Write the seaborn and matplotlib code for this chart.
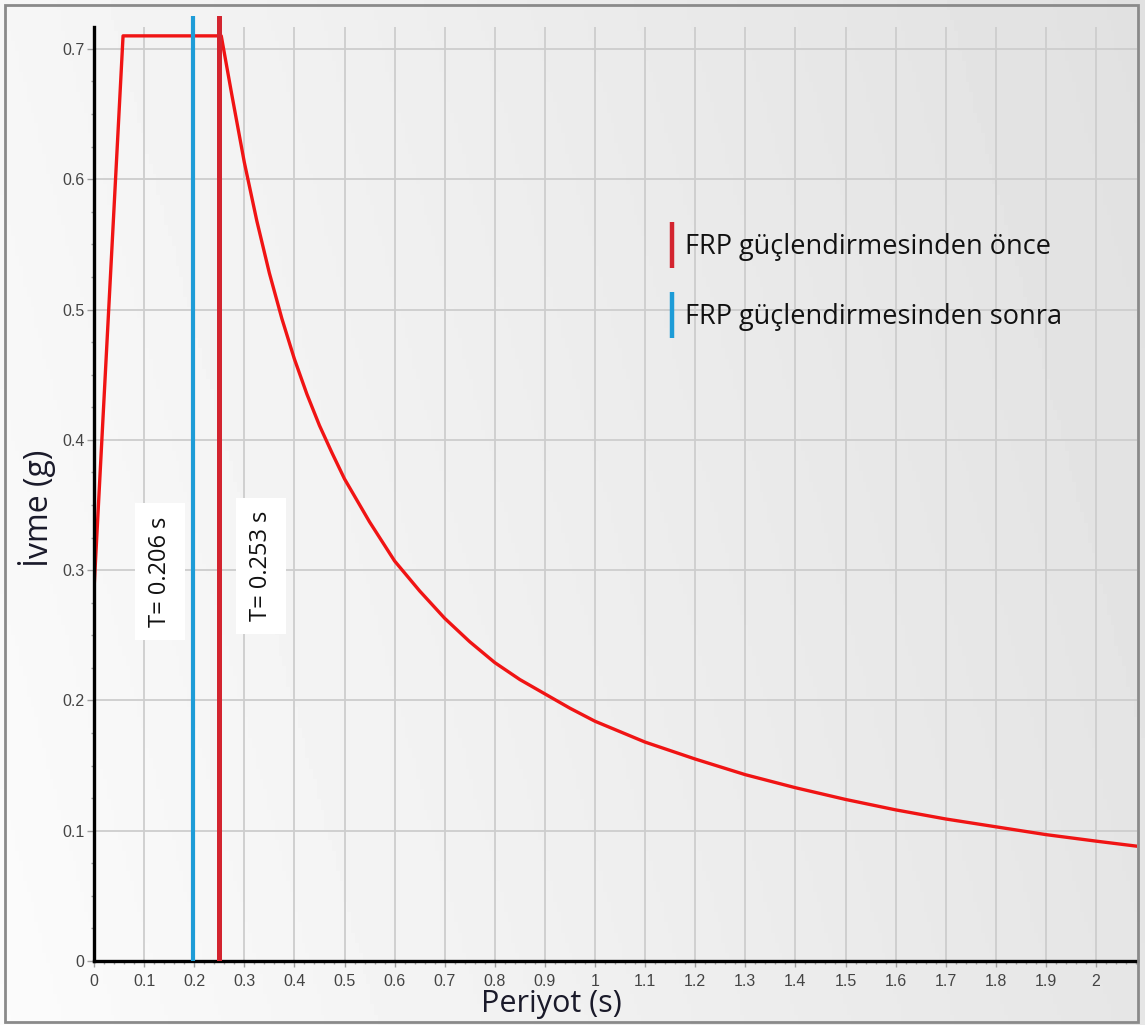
import numpy as np
import pandas as pd
import matplotlib
matplotlib.use('Agg')
import matplotlib.pyplot as plt
import seaborn as sns
from matplotlib.lines import Line2D
from matplotlib.patches import Rectangle

# spectrum values
period = [0.0, 0.058, 0.254, 0.275, 0.30, 0.325, 0.35, 0.375, 0.40, 0.425,
          0.45, 0.475, 0.50, 0.55, 0.60, 0.65, 0.70, 0.75, 0.80, 0.85, 0.90,
          0.95, 1.00, 1.10, 1.20, 1.30, 1.40, 1.50, 1.60, 1.70, 1.80, 1.90,
          2.00, 2.084]
accel = [0.285, 0.710, 0.710, 0.665, 0.613, 0.568, 0.528, 0.493, 0.462, 0.435,
         0.411, 0.390, 0.370, 0.337, 0.307, 0.284, 0.263, 0.245, 0.229, 0.216,
         0.205, 0.194, 0.184, 0.168, 0.155, 0.143, 0.133, 0.124, 0.116, 0.109,
         0.103, 0.097, 0.092, 0.088]

# building periods (vertical markers)
t_after = 0.197
t_before = 0.249
label_after = 'T= 0.206 s'
label_before = 'T= 0.253 s'
legend_labels = ['FRP güçlendirmesinden önce', 'FRP güçlendirmesinden sonra']

red_curve = '#f01414'
red_v = '#d3242f'
blue_v = '#1e9cd7'

df = pd.DataFrame({'Periyot': period, 'Ivme': accel})

sns.set_theme(style='white')
plt.rcParams['font.family'] = ['Open Sans', 'DejaVu Sans']

W, H = 1145, 1025
fig = plt.figure(figsize=(W / 100, H / 100), dpi=100)

# light grey gradient background
bg = fig.add_axes([0, 0, 1, 1], zorder=-5)
gx, gy = np.meshgrid(np.linspace(0, 1, 300), np.linspace(1, 0, 100))
bg.imshow(0.985 - 0.085 * gx - 0.02 * gy, cmap='gray', vmin=0, vmax=1,
          aspect='auto', extent=[0, 1, 0, 1])
bg.axis('off')

ax = fig.add_axes([94 / W, (H - 961) / H, (1137 - 94) / W, (961 - 16) / H])
ax.patch.set_alpha(0)

px_per_s = 501.0
xmax = (1137 - 94) / px_per_s
ytop = (961 - 16) / 1303.0
yspine = (961 - 27) / 1303.0
ax.set_xlim(0, xmax)
ax.set_ylim(0, ytop)

xmaj = np.round(np.arange(0, 2.01, 0.1), 2)
ymaj = np.round(np.arange(0, 0.71, 0.1), 2)

# grid
ax.vlines(xmaj[1:], 0, yspine, color='#cdcdcd', lw=1.3, zorder=0)
ax.hlines(ymaj[1:], 0, xmax, color='#cdcdcd', lw=1.3, zorder=0)

sns.lineplot(data=df, x='Periyot', y='Ivme', ax=ax, color=red_curve, lw=2.4,
             zorder=2, legend=False)

ax.axvline(t_after, color=blue_v, lw=3.0, zorder=3)
ax.axvline(t_before, color=red_v, lw=3.6, zorder=3)

box = dict(facecolor='white', edgecolor='none', boxstyle='square,pad=0.55')
ax.text(0.132, 0.299, label_after, rotation=90, ha='center', va='center',
        fontsize=17, color='#111111', bbox=box, zorder=4)
ax.text(0.333, 0.303, label_before, rotation=90, ha='center', va='center',
        fontsize=17, color='#111111', bbox=box, zorder=4)

# spines
for s in ['top', 'right']:
    ax.spines[s].set_visible(False)
ax.spines['left'].set_color('black')
ax.spines['left'].set_linewidth(2.4)
ax.spines['left'].set_bounds(0, yspine)
ax.spines['bottom'].set_color('black')
ax.spines['bottom'].set_linewidth(2.4)

# ticks
ax.set_xticks(xmaj)
ax.set_xticklabels(['%g' % v for v in xmaj])
ax.set_xticks(np.arange(0, xmax, 0.02), minor=True)
ax.set_yticks(ymaj)
ax.set_yticklabels(['%g' % v for v in ymaj])
ax.set_yticks(np.arange(0, yspine, 0.025), minor=True)
ax.tick_params(axis='both', which='both', direction='out', color='#a0a0a0',
               width=1, labelcolor='#444444', labelsize=11.5)
ax.tick_params(axis='x', which='major', length=4, pad=5, bottom=True)
ax.tick_params(axis='x', which='minor', length=2.5, bottom=True)
ax.tick_params(axis='y', which='major', length=5, pad=2, left=True)
ax.tick_params(axis='y', which='minor', length=2.5, left=True)
for lab in ax.get_xticklabels() + ax.get_yticklabels():
    lab.set_family(['Liberation Sans', 'DejaVu Sans'])

ax.set_xlabel('Periyot (s)', fontsize=22, color='#1a1a2a')
ax.xaxis.set_label_coords((551 - 94) / 1043, (961 - 1004) / 945)
ax.xaxis.label.set_va('center')
ax.set_ylabel('İvme (g)', fontsize=23, color='#1a1a2a')
ax.yaxis.set_label_coords((37 - 94) / 1043, (961 - 508) / 945)
ax.yaxis.label.set_va('center')

# legend with vertical bar handles
handles = [Line2D([0], [0], color=red_v, lw=0, marker='|', markersize=33,
                  markeredgewidth=3.2),
           Line2D([0], [0], color=blue_v, lw=0, marker='|', markersize=33,
                  markeredgewidth=3.2)]
ax.legend(handles, legend_labels, loc='center left',
          bbox_to_anchor=((665 - 94) / 1043, (961 - 282) / 945),
          frameon=False, fontsize=19.5, handlelength=0.5, handletextpad=0.25,
          borderpad=0, borderaxespad=0, labelspacing=1.55,
          labelcolor='#111111')

# outer frame
fig.patches.append(Rectangle((5 / W, 3 / H), 1133 / W, 1017 / H,
                             transform=fig.transFigure, fill=False,
                             ec='#8a8a8a', lw=2))

fig.savefig('out.png', dpi=100)
